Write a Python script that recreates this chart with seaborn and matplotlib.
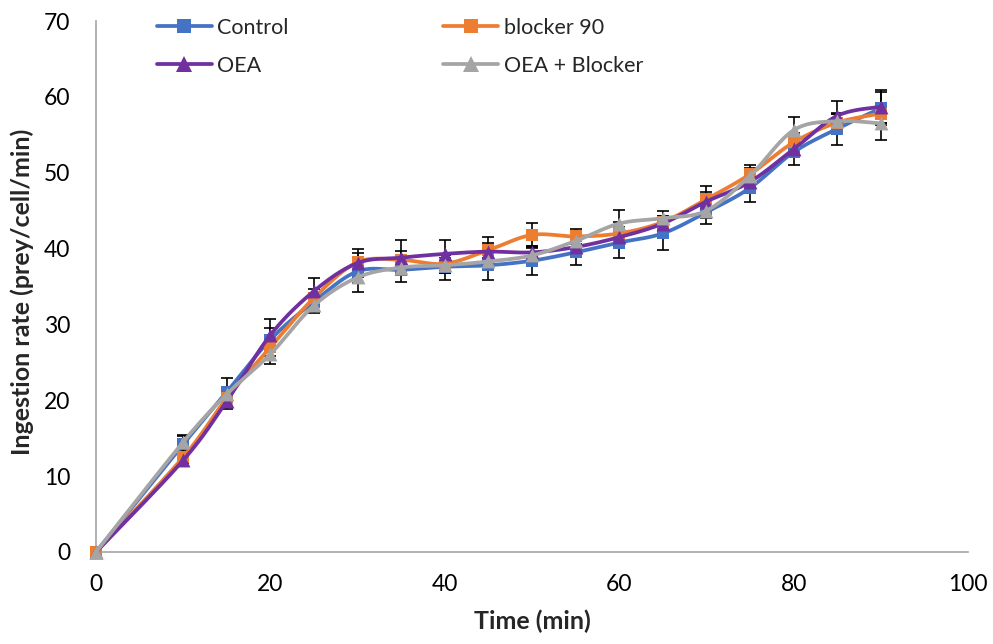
import numpy as np
import pandas as pd
import matplotlib
matplotlib.use("Agg")
import matplotlib.pyplot as plt
from matplotlib.lines import Line2D
import seaborn as sns

# ---- data ----
time_min = [0, 10, 15, 20, 25, 30, 35, 40, 45, 50, 55, 60, 65, 70, 75, 80, 85, 90]
control = [0, 14.2, 21.1, 28.0, 33.0, 37.0, 37.2, 37.6, 37.8, 38.4, 39.5, 40.8, 42.0, 44.8, 48.0, 52.7, 55.8, 58.5]
blocker90 = [0, 12.5, 20.3, 27.0, 33.5, 38.2, 38.5, 38.0, 39.8, 41.8, 41.6, 42.0, 43.5, 46.5, 49.8, 54.0, 56.6, 57.8]
oea = [0, 12.1, 19.9, 28.6, 34.4, 38.1, 38.8, 39.3, 39.6, 39.5, 40.2, 41.5, 43.3, 46.2, 48.8, 53.1, 57.5, 58.7]
oea_blocker = [0, 14.5, 20.8, 26.1, 32.5, 36.2, 37.5, 37.8, 38.3, 39.1, 41.0, 43.3, 44.0, 45.0, 49.6, 55.6, 56.8, 56.5]

control_err = [0, 1.2, 1.9, 1.5, 1.2, 1.5, 1.6, 1.7, 1.9, 1.9, 1.7, 2.1, 2.2, 1.5, 1.8, 1.7, 2.1, 2.2]
blocker90_err = [0, 0.8, 1.2, 1.2, 1.2, 1.2, 1.2, 1.2, 1.0, 1.6, 1.0, 1.5, 0.8, 1.7, 1.2, 1.2, 1.2, 1.2]
oea_err = [0, 0.8, 1.0, 2.1, 1.7, 1.9, 2.3, 1.8, 1.9, 0.8, 1.0, 1.0, 1.0, 1.2, 1.0, 1.0, 2.0, 2.2]
oea_blocker_err = [0, 0.8, 1.0, 1.3, 1.0, 1.9, 1.0, 1.0, 1.0, 1.0, 1.2, 1.8, 0.9, 1.0, 1.0, 1.8, 1.0, 2.2]

series_names = ["Control", "blocker 90", "OEA", "OEA + Blocker"]
series_vals = [control, blocker90, oea, oea_blocker]
series_errs = [control_err, blocker90_err, oea_err, oea_blocker_err]
colors = ["#4472C4", "#ED7D31", "#7030A0", "#A5A5A5"]
markers = ["s", "s", "^", "^"]
msizes = [85, 85, 100, 100]

rows = []
for name, vals, errs in zip(series_names, series_vals, series_errs):
    for t, v, e in zip(time_min, vals, errs):
        rows.append({"Time": t, "Rate": v, "Err": e, "Series": name})
df = pd.DataFrame(rows)


def smooth(xs, ys, n=20):
    """Catmull-Rom (Excel-like) smoothing of a polyline for rendering."""
    P = np.column_stack([xs, ys]).astype(float)
    out = [P[0]]
    for i in range(len(P) - 1):
        p0 = P[i - 1] if i > 0 else P[i]
        p1 = P[i]
        p2 = P[i + 1]
        p3 = P[i + 2] if i + 2 < len(P) else P[i + 1]
        c1 = p1 + (p2 - p0) / 6.0
        c2 = p2 - (p3 - p1) / 6.0
        t = np.linspace(0, 1, n)[1:, None]
        seg = ((1 - t) ** 3) * p1 + 3 * ((1 - t) ** 2) * t * c1 + 3 * (1 - t) * t ** 2 * c2 + t ** 3 * p2
        out.extend(seg)
    out = np.array(out)
    return out[:, 0], out[:, 1]


sns.set_style("white")
plt.rcParams["font.family"] = ["Lato", "DejaVu Sans"]

fig = plt.figure(figsize=(9.93, 6.44), dpi=100)
ax = fig.add_axes([96 / 993, 1 - 552 / 644, (968 - 96) / 993, (552 - 21) / 644])

for i, name in enumerate(series_names):
    sub = df[df["Series"] == name]
    ax.errorbar(sub["Time"], sub["Rate"], yerr=sub["Err"], fmt="none", ecolor="black",
                elinewidth=1.2, capsize=4.5, capthick=1.2, zorder=2 + i * 0.1, clip_on=False)
for i, name in enumerate(series_names):
    sub = df[df["Series"] == name]
    sx, sy = smooth(sub["Time"].values, sub["Rate"].values)
    ax.plot(sx, sy, color=colors[i], lw=2.7, zorder=3 + i, solid_capstyle="round", clip_on=False)
    sns.scatterplot(data=sub, x="Time", y="Rate", ax=ax, color=colors[i], marker=markers[i],
                    s=msizes[i], linewidth=0, zorder=3.5 + i, legend=False, clip_on=False)

ax.set_xlim(0, 100)
ax.set_ylim(0, 70)
ax.set_xticks(range(0, 101, 20))
ax.set_yticks(range(0, 71, 10))
for s in ["top", "right"]:
    ax.spines[s].set_visible(False)
for s in ["left", "bottom"]:
    ax.spines[s].set_color("#A6A6A6")
    ax.spines[s].set_linewidth(1.2)
ax.tick_params(axis="both", which="major", direction="out", length=4.5, width=1.2,
               color="#A6A6A6", labelsize=16.5, labelcolor="black")
ax.tick_params(axis="y", pad=14)
ax.tick_params(axis="x", pad=11)
ax.set_xlabel("Time (min)", fontsize=18, fontweight="bold")
ax.set_ylabel("Ingestion rate (prey/cell/min)", fontsize=18, fontweight="bold")
ax.xaxis.set_label_coords(0.5, (552 - 610) / 531)
ax.yaxis.set_label_coords((34 - 96) / 872, 0.49)

handles = [Line2D([0], [0], color=c, lw=2.7, marker=m, markersize=10.5 if m == "s" else 11.5,
                  markeredgewidth=0) for c, m in zip(colors, markers)]
# order for ncol=2 (column-major fill): Control, OEA | blocker 90, OEA + Blocker
order = [0, 2, 1, 3]
fig.legend([handles[i] for i in order], [series_names[i] for i in order],
           loc="upper left", bbox_to_anchor=(148 / 993, 1 - 9 / 644), ncol=2, frameon=False,
           fontsize=15.5, handlelength=2.55, handletextpad=0.25, columnspacing=7.2,
           labelspacing=0.85, borderaxespad=0)

fig.savefig("out.png", dpi=100)
